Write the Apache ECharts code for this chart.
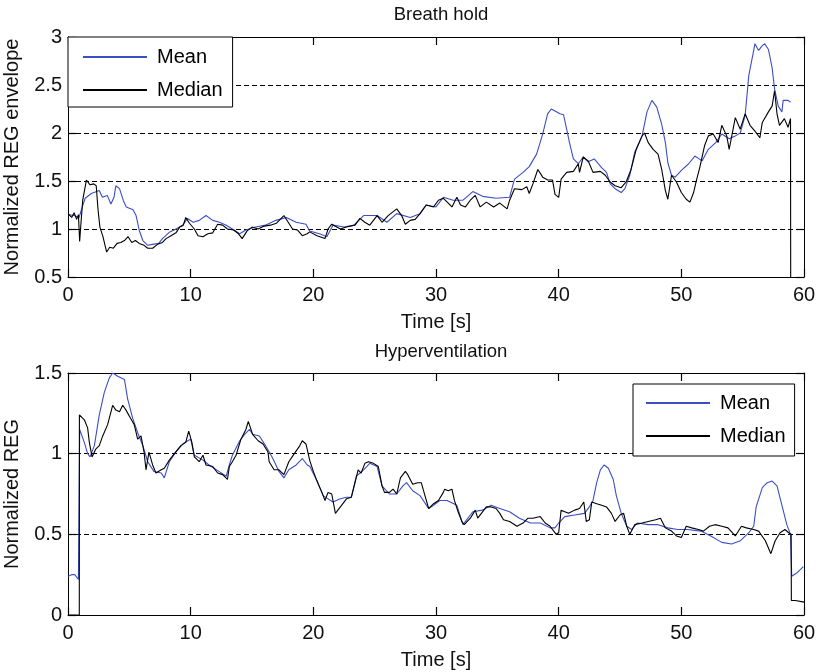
<!DOCTYPE html>
<html>
<head>
<meta charset="utf-8">
<script src="https://cdn.jsdelivr.net/npm/echarts/dist/echarts.min.js"></script>
<style>
html,body{margin:0;padding:0;background:#fff;}
#chart{width:816px;height:672px;}
</style>
</head>
<body>
<div id="chart"></div>
<script>
// ---------- data ----------
const xTicks = [0, 10, 20, 30, 40, 50, 60];
const titles = ['Breath hold', 'Hyperventilation'];
const seriesNames = ['Mean', 'Median'];

// Top panel: Breath hold
const topMeanT = [0,0.5,0.9,1.14,1.4,1.9,2.55,2.8,3.2,3.5,3.75,3.9,4.2,4.5,4.75,5.3,5.55,5.8,6.1,6.5,6.9,7.4,7.7,8.3,8.8,9.35,9.75,10.2,10.7,11.25,11.8,12.35,12.9,13.4,14.0,14.5,15.3,16.1,16.95,17.8,18.6,19.4,19.7,20.5,21.1,21.6,22.5,23.3,24.1,25.2,26.0,26.8,27.9,28.7,29.2,30.0,30.6,31.4,32.2,33.0,33.8,34.9,36.0,36.4,37.1,37.6,38.2,38.7,39.1,39.4,39.7,40.1,40.4,40.65,40.9,41.2,41.6,42.0,42.4,42.9,43.5,43.9,44.2,44.6,45.1,45.4,45.8,46.2,46.8,47.2,47.6,48.0,48.4,48.7,48.9,49.2,49.5,50.0,50.6,51.1,51.7,52.2,52.8,53.3,53.9,54.4,54.8,55.2,55.5,55.9,56.0,56.3,56.6,56.8,57.1,57.4,57.6,57.9,58.2,58.3,58.7,58.9];
const topMeanV = [1.15,1.14,1.12,1.22,1.32,1.37,1.40,1.33,1.35,1.26,1.33,1.45,1.42,1.30,1.23,1.20,1.14,0.99,0.88,0.83,0.84,0.85,0.90,0.97,1.00,1.04,1.11,1.07,1.09,1.14,1.09,1.07,1.04,1.00,0.95,0.99,1.02,1.04,1.09,1.12,1.07,1.05,0.98,0.95,0.92,1.04,1.02,1.04,1.14,1.14,1.07,1.16,1.12,1.16,1.25,1.23,1.33,1.30,1.30,1.39,1.34,1.32,1.33,1.52,1.59,1.65,1.78,1.99,2.20,2.25,2.23,2.20,2.19,2.04,1.89,1.73,1.68,1.75,1.70,1.73,1.64,1.59,1.47,1.42,1.38,1.42,1.56,1.80,1.97,2.22,2.34,2.27,2.09,1.90,1.69,1.56,1.54,1.61,1.68,1.76,1.71,1.83,1.90,1.99,1.94,1.97,2.00,2.18,2.60,2.86,2.93,2.86,2.91,2.93,2.87,2.68,2.46,2.28,2.22,2.34,2.34,2.32];
const topMedT = [0,0.3,0.5,0.7,0.85,0.95,1.05,1.2,1.5,1.8,2.1,2.3,2.45,2.6,2.85,3.15,3.4,3.7,4.0,4.3,4.6,4.9,5.2,5.5,5.8,6.2,6.5,6.9,7.3,7.7,8.0,8.4,8.8,9.1,9.4,9.6,9.9,10.3,10.6,11.0,11.4,11.8,12.2,12.6,13.0,13.5,13.9,14.2,14.6,15.0,15.5,16.0,16.5,17.0,17.3,17.6,17.9,18.3,18.7,19.1,19.5,19.7,20.3,20.95,21.2,21.5,22.2,22.7,23.4,23.8,24.2,24.6,25.2,25.6,26.1,26.8,27.2,27.5,27.9,28.3,28.7,29.2,29.8,30.2,30.6,31.0,31.3,31.7,32.0,32.4,32.8,33.2,33.6,34.1,34.7,35.2,35.8,36.0,36.4,37.0,37.4,37.6,37.9,38.3,38.7,39.1,39.5,39.7,40.0,40.2,40.65,41.2,41.6,41.7,42.0,42.4,42.8,43.4,43.8,44.2,44.6,45.1,45.5,45.9,46.3,46.8,47.0,47.3,47.7,48.1,48.4,48.7,48.9,49.2,49.6,50.0,50.4,50.7,51.0,51.2,51.5,51.9,52.2,52.6,53.0,53.3,53.7,53.9,54.4,54.8,55.2,55.6,56.0,56.4,56.6,57.1,57.4,57.6,57.8,58.0,58.4,58.7,58.9,58.92];
const topMedV = [1.16,1.12,1.17,1.10,1.15,0.87,1.05,1.30,1.51,1.46,1.47,1.45,1.20,1.02,0.92,0.76,0.81,0.80,0.85,0.86,0.88,0.92,0.86,0.88,0.85,0.83,0.80,0.80,0.84,0.86,0.90,0.93,0.96,1.02,1.04,1.12,1.06,1.00,0.93,0.92,0.95,0.96,1.05,1.04,1.00,0.99,0.95,0.90,0.98,1.02,1.00,1.03,1.04,1.06,1.10,1.14,1.08,1.00,0.99,0.93,0.95,0.97,0.93,0.90,1.00,1.05,1.00,1.02,1.04,1.11,1.07,1.04,1.14,1.07,1.14,1.21,1.14,1.05,1.09,1.10,1.16,1.25,1.23,1.30,1.32,1.27,1.23,1.33,1.25,1.23,1.30,1.35,1.23,1.28,1.23,1.27,1.21,1.30,1.42,1.41,1.44,1.37,1.47,1.62,1.54,1.51,1.51,1.36,1.33,1.52,1.59,1.60,1.68,1.59,1.75,1.71,1.59,1.60,1.56,1.49,1.45,1.43,1.49,1.62,1.82,1.97,2.00,1.90,1.83,1.78,1.62,1.40,1.31,1.56,1.49,1.38,1.31,1.28,1.38,1.49,1.64,1.87,1.97,1.99,1.90,2.08,1.97,1.83,2.16,2.04,2.20,2.08,2.02,1.95,2.11,2.22,2.28,2.44,2.20,2.08,2.15,2.06,2.15,0];

// Bottom panel: Hyperventilation
const botMeanT = [0,0.3,0.55,0.85,0.95,1.33,1.6,1.8,2.15,2.55,2.96,3.37,3.64,4.05,4.6,4.86,5.27,5.68,6.1,6.5,7.0,7.6,7.85,8.26,8.8,9.35,9.76,10.0,10.3,11.0,11.5,12.3,12.9,13.15,13.4,14.0,14.4,14.8,15.05,15.6,16.1,16.7,17.2,17.6,18.0,18.6,19.1,19.5,19.72,20.3,20.8,21.2,21.6,22.2,22.7,23.1,23.5,24.1,24.6,25.2,25.6,26.2,26.8,27.3,27.6,28.1,28.7,29.4,29.8,30.3,30.9,31.7,32.2,33.0,33.8,34.5,35.2,36.0,36.8,37.7,38.5,39.3,39.7,40.0,40.5,41.3,42.1,42.5,42.8,43.1,43.4,43.7,44.05,44.45,44.7,45.1,45.55,45.95,46.4,47.3,48.1,48.9,49.7,50.5,51.6,52.4,53.3,54.1,54.8,55.5,55.9,56.1,56.6,57.0,57.4,57.8,58.2,58.6,58.9,59.0,59.4,59.95];
const botMeanV = [0.24,0.25,0.25,0.22,1.15,1.07,1.00,0.98,1.05,1.24,1.38,1.47,1.50,1.48,1.46,1.34,1.22,1.13,1.05,0.95,0.89,0.88,0.85,0.95,1.01,1.06,1.08,1.09,0.99,0.96,0.93,0.89,0.86,0.93,0.99,1.08,1.12,1.15,1.12,1.11,1.05,0.97,0.89,0.85,0.90,0.93,0.97,0.93,0.92,0.83,0.74,0.72,0.70,0.72,0.73,0.73,0.86,0.90,0.94,0.92,0.80,0.75,0.75,0.80,0.82,0.77,0.74,0.66,0.68,0.71,0.71,0.68,0.56,0.64,0.65,0.68,0.66,0.64,0.60,0.57,0.57,0.54,0.54,0.57,0.61,0.62,0.63,0.67,0.71,0.82,0.90,0.93,0.91,0.84,0.74,0.63,0.55,0.53,0.57,0.56,0.56,0.54,0.53,0.53,0.52,0.49,0.45,0.44,0.46,0.51,0.55,0.67,0.79,0.82,0.83,0.80,0.68,0.56,0.50,0.24,0.26,0.30];
const botMedT = [0,0.92,0.93,1.06,1.33,1.6,1.74,1.96,2.28,2.55,2.83,3.23,3.64,3.9,4.2,4.46,4.73,5.1,5.4,5.68,5.95,6.2,6.36,6.6,6.9,7.17,7.6,7.85,8.26,8.67,9.2,9.6,9.84,10.1,10.3,10.7,11.0,11.25,11.8,12.2,12.6,13.0,13.15,13.4,13.7,14.1,14.5,14.7,15.05,15.5,15.9,16.3,16.4,16.8,17.2,17.6,18.0,18.45,18.9,19.1,19.4,19.7,20.0,20.3,20.7,20.95,21.2,21.5,21.8,22.0,22.3,22.7,23.1,23.4,23.65,23.9,24.2,24.5,24.9,25.3,25.6,25.8,26.2,26.5,26.8,27.1,27.5,27.7,28.1,28.5,28.8,29.1,29.4,29.8,30.2,30.6,30.7,31.0,31.3,31.5,31.8,32.1,32.3,32.8,33.2,33.4,33.7,34.1,34.5,34.9,35.2,35.5,36.0,36.6,37.1,37.5,37.9,38.5,38.9,39.3,39.8,40.0,40.2,40.8,41.3,41.7,42.05,42.25,42.5,42.7,43.1,43.5,43.9,44.3,44.6,45.0,45.3,45.55,45.8,46.2,46.8,47.3,47.9,48.3,48.7,49.2,49.6,50.0,50.4,50.85,51.4,51.8,52.3,52.75,53.3,53.8,54.4,54.9,55.3,55.9,56.3,56.85,57.3,57.65,58.05,58.45,58.75,58.95,58.97,59.3,60];
const botMedV = [0,0,1.24,1.23,1.21,1.16,1.07,0.98,1.03,1.05,1.11,1.18,1.30,1.27,1.26,1.30,1.27,1.22,1.18,1.09,1.11,1.01,0.90,1.01,0.93,0.88,0.90,0.91,0.96,1.00,1.05,1.07,1.14,1.07,0.98,0.95,0.99,0.93,0.92,0.88,0.87,0.84,0.92,0.95,0.99,1.09,1.15,1.20,1.12,1.08,1.06,1.01,0.95,0.90,0.90,0.87,0.95,1.00,1.05,1.08,1.06,0.96,0.89,0.83,0.76,0.71,0.76,0.75,0.63,0.65,0.68,0.72,0.73,0.82,0.90,0.88,0.94,0.95,0.94,0.92,0.80,0.76,0.76,0.78,0.75,0.85,0.89,0.87,0.81,0.82,0.82,0.74,0.66,0.69,0.71,0.76,0.78,0.77,0.78,0.71,0.64,0.58,0.56,0.60,0.65,0.60,0.63,0.67,0.67,0.66,0.63,0.59,0.58,0.55,0.57,0.60,0.60,0.61,0.57,0.55,0.50,0.51,0.65,0.63,0.65,0.66,0.70,0.58,0.59,0.70,0.69,0.68,0.67,0.63,0.58,0.62,0.63,0.55,0.50,0.56,0.57,0.58,0.59,0.60,0.54,0.52,0.49,0.48,0.55,0.54,0.53,0.52,0.55,0.56,0.55,0.54,0.49,0.55,0.54,0.53,0.52,0.46,0.38,0.46,0.51,0.53,0.51,0.50,0.09,0.09,0.08];

// ---------- chart ----------
const pairs = (t, v) => t.map((x, i) => [x, v[i]]);
const BLUE = '#3b4ec6';
const FONT = '"Liberation Sans", Arial, Helvetica, sans-serif';
const TXT = '#111';

const chart = echarts.init(document.getElementById('chart'), null, {renderer: 'canvas'});

const grids = [
  {left: 68, top: 37, width: 736, height: 240, containLabel: false, outerBoundsMode: 'none'},
  {left: 68, top: 373, width: 736, height: 242, containLabel: false, outerBoundsMode: 'none'}
];

const tickStyle = {show: true, inside: true, length: 8, lineStyle: {color: '#000', width: 1.2, opacity: 1}};

function xAx(gi, pos) {
  const bottom = pos === 'bottom';
  return {
    type: 'value', gridIndex: gi, position: pos, min: xTicks[0], max: xTicks[xTicks.length - 1], interval: 10,
    name: bottom ? 'Time [s]' : '', nameLocation: 'middle', nameGap: 35,
    nameTextStyle: {fontFamily: FONT, fontSize: 20, color: TXT},
    axisLine: {show: true, onZero: false, lineStyle: {color: '#000', width: 1}},
    axisTick: tickStyle,
    axisLabel: {show: bottom, margin: 8, fontFamily: FONT, fontSize: 20, color: TXT},
    splitLine: {show: false}
  };
}
function yAx(gi, pos, min, max, name) {
  const left = pos === 'left';
  return {
    type: 'value', gridIndex: gi, position: pos, min: min, max: max, interval: 0.5,
    name: left ? name : '', nameLocation: 'middle', nameGap: 46,
    nameTextStyle: {fontFamily: FONT, fontSize: 20, color: TXT},
    axisLine: {show: true, onZero: false, lineStyle: {color: '#000', width: 1}},
    axisTick: tickStyle,
    axisLabel: {show: left, margin: 6, fontFamily: FONT, fontSize: 20, color: TXT},
    splitLine: {show: left, lineStyle: {color: '#000', width: 1, type: [5, 3]}}
  };
}

function line(name, color, xi, yi, data) {
  return {
    name: name, type: 'line', xAxisIndex: xi, yAxisIndex: yi, data: data,
    symbol: 'none', showSymbol: false, clip: true, animation: false,
    lineStyle: {color: color, width: 1.1}, itemStyle: {color: color}
  };
}

const legendCommon = {
  orient: 'vertical', data: seriesNames,
  itemWidth: 64, itemHeight: 14, itemGap: 11,
  itemStyle: {opacity: 0},
  backgroundColor: '#fff', borderColor: '#000', borderWidth: 1, borderRadius: 0,
  textStyle: {fontFamily: FONT, fontSize: 20, color: '#000', lineHeight: 22, padding: [0, 0, 0, 5]},
  selectedMode: false, z: 10
};

chart.setOption({
  backgroundColor: '#fff',
  animation: false,
  title: [
    {text: titles[0], left: 436, top: 0, textAlign: 'center',
     textStyle: {fontFamily: FONT, fontSize: 18.5, fontWeight: 'normal', color: TXT}},
    {text: titles[1], left: 436, top: 337, textAlign: 'center',
     textStyle: {fontFamily: FONT, fontSize: 18.5, fontWeight: 'normal', color: TXT}}
  ],
  legend: [
    Object.assign({}, legendCommon, {left: 68, top: 37, padding: [9, 10, 6, 14]}),
    Object.assign({}, legendCommon, {left: 633, top: 384, padding: [8, 9, 9, 12]})
  ],
  grid: grids,
  xAxis: [xAx(0, 'bottom'), xAx(0, 'top'), xAx(1, 'bottom'), xAx(1, 'top')],
  yAxis: [
    yAx(0, 'left', 0.5, 3, 'Normalized REG envelope'),
    yAx(0, 'right', 0.5, 3, ''),
    yAx(1, 'left', 0, 1.5, 'Normalized REG'),
    yAx(1, 'right', 0, 1.5, '')
  ],
  series: [
    line(seriesNames[0], BLUE, 0, 0, pairs(topMeanT, topMeanV)),
    line(seriesNames[1], '#000', 0, 0, pairs(topMedT, topMedV)),
    line(seriesNames[0], BLUE, 2, 2, pairs(botMeanT, botMeanV)),
    line(seriesNames[1], '#000', 2, 2, pairs(botMedT, botMedV))
  ]
});
</script>
</body>
</html>
